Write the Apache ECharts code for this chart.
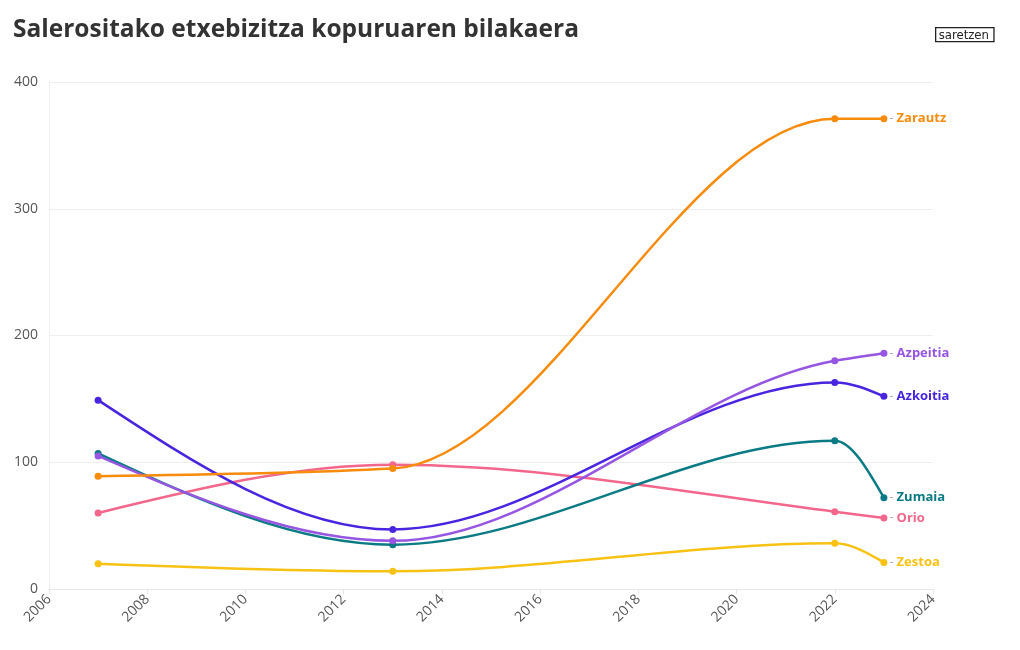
<!DOCTYPE html>
<html>
<head>
<meta charset="utf-8">
<script src="https://cdn.jsdelivr.net/npm/echarts@6/dist/echarts.min.js"></script>
<style>
html,body{margin:0;padding:0;background:#fff;}
#chart{width:1020px;height:650px;}
</style>
</head>
<body>
<div id="chart"></div>
<script>
const years = [2007, 2013, 2022, 2023];
const seriesNames = ['Zarautz', 'Azpeitia', 'Azkoitia', 'Zumaia', 'Orio', 'Zestoa'];
const zarautz = [89, 95, 371, 371];
const azpeitia = [105, 38, 180, 186];
const azkoitia = [149, 47, 163, 152];
const zumaia = [107, 35, 117, 72];
const orio = [60, 98, 61, 56];
const zestoa = [20, 14, 36, 21];
const seriesValues = [zarautz, azpeitia, azkoitia, zumaia, orio, zestoa];
const colors = ['#f68b0c', '#9656e2', '#4a25df', '#0a7b84', '#f2678b', '#f8c214'];
const xTicks = [2006, 2008, 2010, 2012, 2014, 2016, 2018, 2020, 2022, 2024];
const yTicks = [0, 100, 200, 300, 400];

// monotone-x tangents (d3 curveMonotoneX), computed in pixel space
function sgn(x) { return x < 0 ? -1 : 1; }
function monotoneTangents(pts) {
  const n = pts.length;
  const t = new Array(n).fill(0);
  if (n < 2) return t;
  if (n === 2) {
    const s = (pts[1][1] - pts[0][1]) / (pts[1][0] - pts[0][0]);
    t[0] = s; t[1] = s; return t;
  }
  for (let i = 1; i < n - 1; i++) {
    const h0 = pts[i][0] - pts[i - 1][0], h1 = pts[i + 1][0] - pts[i][0];
    const s0 = (pts[i][1] - pts[i - 1][1]) / h0;
    const s1 = (pts[i + 1][1] - pts[i][1]) / h1;
    const p = (s0 * h1 + s1 * h0) / (h0 + h1);
    t[i] = (sgn(s0) + sgn(s1)) * Math.min(Math.abs(s0), Math.abs(s1), 0.5 * Math.abs(p)) || 0;
  }
  const hA = pts[1][0] - pts[0][0];
  t[0] = (3 * (pts[1][1] - pts[0][1]) / hA - t[1]) / 2;
  const hB = pts[n - 1][0] - pts[n - 2][0];
  t[n - 1] = (3 * (pts[n - 1][1] - pts[n - 2][1]) / hB - t[n - 2]) / 2;
  return t;
}

const chart = echarts.init(document.getElementById('chart'));
const series = [];
seriesNames.forEach((name, i) => {
  const vals = seriesValues[i];
  const data = years.map((y, j) => [y, vals[j]]);
  series.push({
    name: name,
    type: 'custom',
    z: 10 - i,
    clip: false,
    data: data,
    encode: { x: 0, y: 1 },
    renderItem: function (params, api) {
      const idx = params.dataIndex;
      if (idx >= data.length - 1) return null;
      const pts = data.map(d => api.coord(d));
      const tg = monotoneTangents(pts);
      const p0 = pts[idx], p1 = pts[idx + 1];
      const dx = (p1[0] - p0[0]) / 3;
      return {
        type: 'bezierCurve',
        shape: {
          x1: p0[0], y1: p0[1],
          cpx1: p0[0] + dx, cpy1: p0[1] + dx * tg[idx],
          cpx2: p1[0] - dx, cpy2: p1[1] - dx * tg[idx + 1],
          x2: p1[0], y2: p1[1]
        },
        style: { stroke: colors[i], lineWidth: 2.5, fill: null, lineCap: 'round' },
        silent: true
      };
    }
  });
  series.push({
    name: name,
    type: 'scatter',
    z: 20 - i,
    symbol: 'circle',
    symbolSize: 7,
    itemStyle: { color: colors[i], opacity: 1 },
    data: data.map((d, j) => j === data.length - 1 ? {
      value: d,
      label: {
        show: true,
        position: 'right',
        distance: 2,
        formatter: '{d|-} {n|' + name + '}',
        rich: {
          d: { color: '#aaaaaa', fontSize: 12, fontFamily: 'Open Sans' },
          n: { color: colors[i], fontSize: 13, fontWeight: 'bold', fontFamily: 'Open Sans' }
        }
      }
    } : d)
  });
});

chart.setOption({
  animation: false,
  backgroundColor: '#fff',
  title: {
    text: 'Salerositako etxebizitza kopuruaren bilakaera',
    left: 8, top: 13,
    textStyle: { fontFamily: 'Open Sans', fontWeight: 'bold', fontSize: 24.5, color: '#333' }
  },
  graphic: [{
    type: 'text',
    left: 935, top: 27,
    style: {
      text: 'saretzen',
      font: '13px "DejaVu Sans Condensed", "DejaVu Sans"',
      fill: '#222',
      borderColor: '#222',
      borderWidth: 1.3,
      padding: [1, 5, 0, 3]
    }
  }],
  grid: { left: 49, right: 87, top: 82, bottom: 61, containLabel: false },
  xAxis: {
    type: 'value',
    min: 2006, max: 2024, interval: 2,
    axisLine: { show: true, lineStyle: { color: '#e6e6e6' } },
    axisTick: { show: true, length: 5, lineStyle: { color: '#e6e6e6' } },
    splitLine: { show: false },
    axisLabel: {
      rotate: 45, color: '#555', fontSize: 14, fontFamily: 'Open Sans', margin: 8,
      formatter: v => String(v)
    }
  },
  yAxis: {
    type: 'value',
    min: 0, max: 400, interval: 100,
    axisLine: { show: true, lineStyle: { color: '#eeeeee' } },
    axisTick: { show: false },
    splitLine: { show: true, lineStyle: { color: '#eeeeee' } },
    axisLabel: { color: '#555', fontSize: 14, fontFamily: 'Open Sans', margin: 11 }
  },
  series: series
});
</script>
</body>
</html>
